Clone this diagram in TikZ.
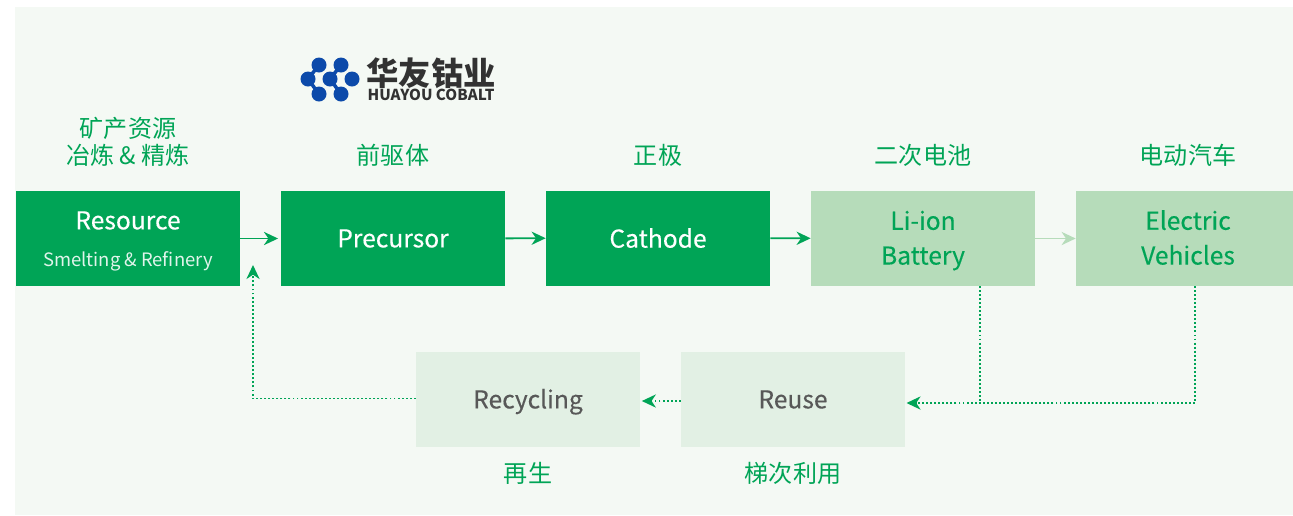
\documentclass[tikz,border=0pt]{standalone}
\usepackage{fontspec}
\setmainfont{Noto Sans CJK SC}
\newfontfamily\boxfont[FakeBold=0.25]{Noto Sans CJK SC}
\usetikzlibrary{arrows.meta,positioning,calc}

\definecolor{hyblue}{RGB}{12,74,170}
\definecolor{hydark}{RGB}{50,50,50}
\definecolor{hygreen}{RGB}{0,164,86}
\definecolor{hylight}{RGB}{182,220,186}
\definecolor{hypale}{RGB}{226,240,228}
\definecolor{hypanel}{RGB}{244,249,244}
\definecolor{hygrey}{RGB}{88,88,88}

\newcommand{\nodepth}[1]{\raisebox{0pt}[\height][1pt]{#1}}

\tikzset{
  stagebox/.style={rectangle, inner sep=0pt, minimum width=4.48cm, minimum height=1.9cm, align=center, font=\fontsize{14}{19.8}\selectfont\boxfont},
  darkbox/.style={stagebox, fill=hygreen, text=white},
  midbox/.style={stagebox, fill=hylight, text=hygreen},
  palebox/.style={stagebox, fill=hypale, text=hygrey},
  cnlabel/.style={text=hygreen, align=center, inner sep=0pt, font=\fontsize{13.7}{15.5}\selectfont},
  flow/.style={-{Stealth[length=8pt,width=7.5pt,inset=2.5pt]}, hygreen, line width=1.1pt},
  backflow/.style={-{Stealth[length=8pt,width=7.5pt,inset=2.5pt]}, backline},
  backline/.style={hygreen, line width=1.1pt, dash pattern=on 1.1pt off 1.2pt},
  dot/.style={circle, fill=hyblue, minimum size=0.3cm, inner sep=0pt}
}

\begin{document}
\begin{tikzpicture}[x=0.02cm,y=-0.02cm]
    \useasboundingbox (0,0) rectangle (1293,515);
    \fill[hypanel] (15,7) rectangle (1293,515);

    % logo
    \node[dot] (d1) at (319,65) {};
    \node[dot] (d2) at (341,65) {};
    \node[dot] (d3) at (308,79) {};
    \node[dot] (d4) at (330,79) {};
    \node[dot] (d5) at (352,79) {};
    \node[dot] (d6) at (319,94) {};
    \node[dot] (d7) at (341,94) {};
    \draw[hyblue, line width=2pt] (d1.center) -- (d3.center) -- (d6.center) (d2.center) -- (d4.center) -- (d7.center);
    \node[text=hydark, inner sep=0pt, font=\fontsize{18.4}{20}\selectfont\bfseries] (logocn) at (431,73) {华友钴业};
    \node[text=hydark, inner sep=0pt, font=\fontsize{8.6}{9}\selectfont\bfseries] (logoen) at (431,94.5) {HUAYOU COBALT};

    % top row
    \node[darkbox] (resource) at (128,238.5) {};
    \node[text=white, inner sep=0pt, font=\fontsize{14}{16}\selectfont\boxfont] (restitle) at (128,220.5) {Resource};
    \node[text=white!88!hygreen, inner sep=0pt, font=\fontsize{10.5}{12}\selectfont] (ressub) at (128,261.5) {Smelting \& Refinery};
    \node[darkbox] (precursor) at (393,238.5) {Precursor};
    \node[darkbox] (cathode) at (658,238) {Cathode};
    \node[midbox] (battery) at (923,238.5) {Li-ion\\\nodepth{Battery}};
    \node[midbox, minimum width=4.34cm] (ev) at (1184.5,238.5) {};
    \node[text=hygreen, inner sep=0pt, align=center, font=\fontsize{14}{19.8}\selectfont\boxfont] (evtext) at (1188,237.5) {Electric\\Vehicles};

    % bottom row
    \node[palebox] (recycling) at (528,399.5) {\nodepth{Recycling}};
    \node[palebox] (reuse) at (793,399.5) {Reuse};

    % chinese labels
    \node[cnlabel] (l1) at (128,141.5) {矿产资源\\冶炼 \& 精炼};
    \node[cnlabel] (l2) at (393,155) {前驱体};
    \node[cnlabel] (l3) at (658,155) {正极};
    \node[cnlabel] (l4) at (923,155) {二次电池};
    \node[cnlabel] (l5) at (1188,155) {电动汽车};
    \node[cnlabel] (l6) at (528,473) {再生};
    \node[cnlabel] (l7) at (793,473) {梯次利用};

    % forward arrows
    \draw[flow, shorten >=1.5pt] (resource) -- (precursor);
    \draw[flow] (precursor) -- (cathode);
    \draw[flow] (cathode) -- (battery);
    \draw[flow, hylight] (battery) -- (ev);

    % return arrows
    \coordinate (batdown) at (980,286);
    \coordinate (evdown) at (1195,286);
    \coordinate (junction) at (980,403);
    \coordinate (reusein) at (906.5,403);
    \coordinate (resin) at (253,265);
    \draw[backline] (batdown) -- (junction);
    \draw[backflow] (evdown) -- (1195,403) -- (reusein);
    \draw[backflow] ($(reuse.west)+(0,1.5)$) -- ($(recycling.east)+(1.5,1.5)$);
    \draw[backflow] ($(recycling.west)+(0,-1)$) -- (253,398.5) -- (resin);
\end{tikzpicture}
\end{document}
